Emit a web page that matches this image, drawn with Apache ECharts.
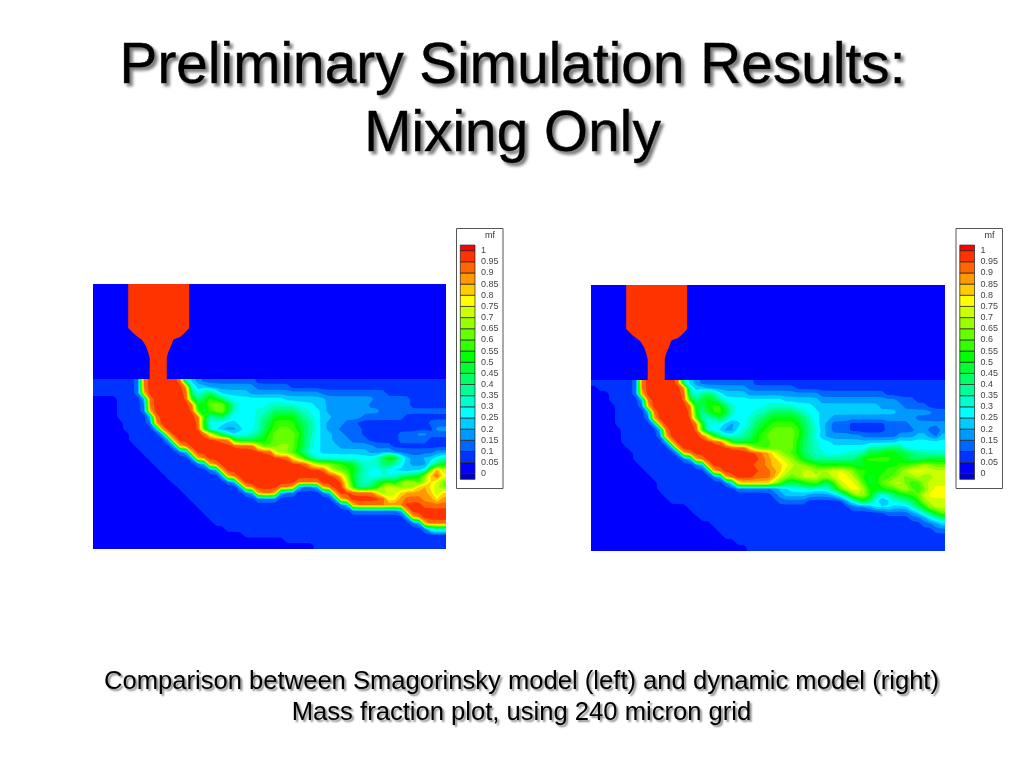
<!DOCTYPE html>
<html>
<head>
<meta charset="utf-8">
<title>Preliminary Simulation Results</title>
<script src="https://cdn.jsdelivr.net/npm/echarts@6/dist/echarts.min.js"></script>
<style>
html, body { margin: 0; padding: 0; background: #fff; }
#chart { width: 1024px; height: 768px; }
</style>
</head>
<body>
<div id="chart"></div>
<script>
// mass fraction bands: one char per 0.05 step, '0' = 0-0.05 ... 'j' = 0.95-1
const bandChars = '0123456789abcdefghij';
const bandColors = ['#0000ff', '#0033ff', '#0066ff', '#0099ff', '#00ccff', '#00ffff', '#00ffcc', '#00ff99', '#00ff66', '#00ff33',
    '#00ff00', '#33ff00', '#66ff00', '#99ff00', '#ccff00', '#ffff00', '#ffcc00', '#ff9900', '#ff6600', '#ff3300'];
const legendEdges = [-0.025, 0, 0.05, 0.1, 0.15, 0.2, 0.25, 0.3, 0.35, 0.4, 0.45, 0.5, 0.55, 0.6, 0.65, 0.7, 0.75, 0.8, 0.85, 0.9, 0.95, 1, 1.025];
const legendBelow = '#0000cc';
const legendAbove = '#ff0000';

// rows, top to bottom. token = band char + run length
// the nozzle is above the interface, it only has wall or fluid
const nozzleRows = [
    '05 4 j10 1 042', '05 4 j10 1 042', '05 4 j10 1 042', '05 4 j10 1 042',
    '05 4 j10 1 042', '05 4 j10 1 042', '05 4 j10 1 042', '05 4 j10 1 042',
    '06 4 j8 3 043', '08 e j4 8 045', '08 5 j4 046', '09 e j2 a 046',
    '09 a j2 7 046', '09 a j2 7 046', '09 a j2 7 046', '09 a j2 7 046'
];

const smagorinskyRows = [
    '18 j7 5 4 3 29 132',
    '18 j8 5 42 38 26 126',
    '18 j8 7 5 7 9 6 45 312 211 110',
    '04 15 j7 a 7 9 b a 8 6 59 47 38 26 16',
    '04 15 j8 9 a c d d a 7 55 65 53 42 37 27 16',
    '04 15 j8 a 8 b c d a 6 53 62 7 84 7 6 52 4 39 211',
    '04 16 j8 b 6 7 9 6 54 6 7 8 a4 8 7 6 5 42 35 27 17',
    '05 15 j8 a 53 42 53 6 8 9 b4 9 8 7 5 4 33 22 112 23',
    '05 16 j7 a 5 4 33 4 52 6 8 a b c c b a 8 7 5 4 32 24 112 32',
    '06 16 j7 f c 7 5 4 52 6 7 9 b c4 b 8 7 5 42 32 23 16 23 32 23',
    '06 17 j10 a 83 9 a b c4 a 8 6 5 42 33 23 15 25 13',
    '07 17 j13 e b b c d d c a 8 6 5 43 36 23 19',
    '08 18 j14 e c c b 9 7 52 48 34 27 32',
    '09 18 j16 f d a 7 510 6 9 c b 7 4 32 42 5 6',
    '010 19 j17 g e d d c b a a 7 63 8 8 6 5 4 33 5 7 a',
    '011 110 j18 f c c b a 8 6 52 6 5 42 3 43 d i e',
    '012 110 j19 g d 9 7 6 54 6 7 8 9 a e g j f',
    '013 111 j18 e a 7 6 7 9 a b 9 d e d b d g e c',
    '014 111 j9 14 j4 f a 62 7 9 e f e c c d g h f e c',
    '015 112 j4 19 j7 g c e e g h4 g d g',
    '016 125 j8 e f h i3 h h f h',
    '017 126 j12 i4',
    '018 134 j7',
    '019 134 j6',
    '020 135 j4',
    '022 134 5 6 6',
    '025 134',
    '032 127',
    '037 122'
];

const dynamicRows = [
    '18 j7 5 4 3 29 132',
    '01 17 j8 5 42 37 28 125',
    '03 15 j8 7 5 7 9 7 5 44 312 211 110',
    '03 16 j7 a 7 9 a 9 7 510 46 313 23 15',
    '04 15 j8 9 8 a b b 8 6 55 65 53 42 49 34 24 13',
    '04 16 j7 a 7 9 b b a 6 53 62 7 84 7 6 52 413 36 22',
    '04 16 j7 b 62 7 9 7 53 6 7 8 9 a4 9 8 6 5 42 314 25',
    '04 17 j7 b 53 4 3 4 5 6 8 9 a b4 a 8 7 5 4 3 23 16 24 36',
    '05 17 j6 a 52 4 32 5 6 7 9 a b c4 b 9 7 6 4 3 23 16 25 32 2 1 3',
    '05 17 j7 g a 7 52 6 7 8 a b c5 b 9 7 5 4 36 26 33 42 3 2 4',
    '05 18 j9 f a 82 9 a b b c4 a 8 7 6 52 411 58',
    '06 18 j12 f c b b c4 a 8 7 6 58 73 83 57',
    '07 18 j13 i h f d c b a 8 7 62 53 63 7 92 a3 92 8 72 63',
    '07 110 j11 i h g f e d b 9 8 77 9 b5 a2 9 83 93',
    '08 111 j8 i2 h g2 f e d2 c b a6 92 a5 b2 c2 e d c2',
    '09 111 j8 i2 h g e d2 e2 d e2 f2 e d b2 a3 b2 c e f3 e3',
    '010 112 j5 i3 h e d c d e3 d2 e f2 e c a 9 a b2 c d c d e c d e2',
    '011 112 3 h6 e c 9 8 9 a b c 9 8 b e f2 e b 9 a c d e2 c a b d e3',
    '011 119 2 3 4 53 6 52 6 8 c e f2 d a3 b2 d e c a c e f2',
    '012 118 2 3 44 34 4 5 8 c e d b 7 5 6 8 9 a b c e f3',
    '013 118 25 16 3 5 8 a 8 5 3 4 62 7 8 a d e3',
    '016 127 23 3 53 43 6 8 a d e2',
    '017 132 24 3 4 6 8 a c',
    '018 135 22 3 5 6 8',
    '020 135 22 3 4',
    '021 136 22',
    '022 137',
    '024 135',
    '026 133'
];

const colCount = 59;
const rowCount = nozzleRows.length + smagorinskyRows.length;
const wallThreshold = 9.5;
const softSide = 0.08;

function expandRows(rows) {
    return rows.map(row => {
        let out = [];
        row.split(' ').forEach(token => {
            const band = bandChars.indexOf(token[0]);
            const run = token.length > 1 ? parseInt(token.slice(1), 10) : 1;
            for (let i = 0; i < run; i++) out.push(band);
        });
        while (out.length < colCount) out.push(out[out.length - 1]);
        return out;
    });
}

// slight softening for drawing only, so the contour lines are not chamfered
function softened(bands) {
    const pick = (c, r) => bands[Math.max(0, Math.min(r, bands.length - 1))][Math.max(0, Math.min(c, colCount - 1))];
    const mid = 1 - 2 * softSide;
    return bands.map((row, r) => row.map((v, c) => {
        let sum = 0;
        [[-1, softSide], [0, mid], [1, softSide]].forEach(a => {
            [[-1, softSide], [0, mid], [1, softSide]].forEach(b => {
                sum += pick(c + a[0], r + b[0]) * a[1] * b[1];
            });
        });
        return sum;
    }));
}

// contour squares between neighbouring cell centres: [x0, y0, x1, y1, v00, v10, v11, v01, isWall]
function squaresFrom(rows, firstRow, isWall) {
    const bands = isWall ? expandRows(rows) : softened(expandRows(rows));
    const at = (c, r) => bands[Math.max(0, Math.min(r, rows.length - 1))][Math.max(0, Math.min(c, colCount - 1))];
    let squares = [];
    for (let r = 0; r <= rows.length; r++) {
        for (let c = 0; c <= colCount; c++) {
            squares.push([
                Math.max(c - 0.5, 0), firstRow + Math.max(r - 0.5, 0),
                Math.min(c + 0.5, colCount), firstRow + Math.min(r + 0.5, rows.length),
                at(c - 1, r - 1), at(c, r - 1), at(c, r), at(c - 1, r), isWall ? 1 : 0
            ]);
        }
    }
    return squares;
}

function clipAbove(corners, t) {
    let out = [];
    corners.forEach((p, i) => {
        const q = corners[(i + 1) % corners.length];
        if (p[2] >= t) out.push(p);
        if ((p[2] >= t) !== (q[2] >= t)) {
            const f = (t - p[2]) / (q[2] - p[2]);
            out.push([p[0] + (q[0] - p[0]) * f, p[1] + (q[1] - p[1]) * f, t]);
        }
    });
    return out;
}

function renderSquare(params, api) {
    // square corners land on whole pixels so neighbours leave no seam
    const a = api.coord([api.value(0), api.value(1)]).map(Math.round);
    const b = api.coord([api.value(2), api.value(3)]).map(Math.round);
    const v = [api.value(4), api.value(5), api.value(6), api.value(7)];
    const isWall = api.value(8) === 1;
    const corners = [[a[0], a[1], v[0]], [b[0], a[1], v[1]], [b[0], b[1], v[2]], [a[0], b[1], v[3]]];
    const toPoly = (pts, color) => ({
        type: 'polygon',
        shape: {points: pts.map(p => [p[0], p[1]])},
        style: {fill: color, stroke: null, lineWidth: 0}
    });
    let children = [];
    if (isWall) {
        children.push(toPoly(corners, bandColors[0]));
        const fluid = clipAbove(corners, wallThreshold);
        if (fluid.length > 2) children.push(toPoly(fluid, bandColors[19]));
    } else {
        const low = Math.round(Math.min.apply(null, v));
        const high = Math.round(Math.max.apply(null, v));
        children.push(toPoly(corners, bandColors[low]));
        for (let band = low + 1; band <= high; band++) {
            const part = clipAbove(corners, band - 0.5);
            if (part.length > 2) children.push(toPoly(part, bandColors[band]));
        }
    }
    return {type: 'group', children: children};
}

const legendColors = [legendBelow].concat(bandColors, [legendAbove]);
const legendData = legendEdges.slice(0, -1).map((low, i) => [low, legendEdges[i + 1]]);

function renderLegendBox(params, api) {
    const a = api.coord([0, api.value(0)]);
    const b = api.coord([1, api.value(1)]);
    return {
        type: 'rect',
        shape: {x: a[0], y: b[1], width: b[0] - a[0], height: a[1] - b[1]},
        style: {fill: legendColors[params.dataIndex], stroke: '#222', lineWidth: 0.7}
    };
}

function legendFrame(x) {
    return {type: 'rect', shape: {x: x, y: 228.5, width: 46.5, height: 260}, style: {fill: '#fff', stroke: '#555', lineWidth: 1}, z: -1};
}

function legendTitle(x) {
    return {type: 'text', x: x, y: 231, style: {text: 'mf', fontFamily: 'Liberation Sans', fontSize: 9, fill: '#333'}};
}

const plotGrids = [
    {left: 93.3, top: 284.3, width: 352.4, height: 265},
    {left: 591, top: 285, width: 354.3, height: 266}
];
const legendGrids = [
    {left: 460.3, top: 239.5, width: 14.7, height: 245.4},
    {left: 959.8, top: 239.5, width: 14.7, height: 245.4}
];

function plotSeries(data, axisIndex) {
    return {
        type: 'custom',
        xAxisIndex: axisIndex,
        yAxisIndex: axisIndex,
        data: data,
        renderItem: renderSquare,
        encode: {x: [0, 2], y: [1, 3]},
        silent: true
    };
}

function legendSeries(axisIndex) {
    return {
        type: 'custom',
        xAxisIndex: axisIndex,
        yAxisIndex: axisIndex,
        data: legendData,
        renderItem: renderLegendBox,
        encode: {y: [0, 1]},
        silent: true,
        clip: false
    };
}

function legendYAxis(gridIndex) {
    return {
        type: 'value',
        gridIndex: gridIndex,
        position: 'right',
        min: -0.05,
        max: 1.05,
        interval: 0.05,
        axisLine: {show: false},
        axisTick: {show: false},
        splitLine: {show: false},
        axisLabel: {
            show: true,
            margin: 6,
            fontSize: 9,
            color: '#444',
            fontFamily: 'Liberation Sans',
            padding: [5, 0, 0, 0],
            formatter: v => (v < -0.01 || v > 1.01) ? '' : String(Math.round(v * 100) / 100)
        }
    };
}

const chart = echarts.init(document.getElementById('chart'), null, {renderer: 'canvas'});

chart.setOption({
    animation: false,
    backgroundColor: '#fff',
    title: [
        {
            text: 'Preliminary Simulation Results:\nMixing Only',
            left: 507.5,
            top: 28.5,
            textAlign: 'center',
            textStyle: {
                fontFamily: 'Liberation Sans',
                fontWeight: 'normal',
                fontSize: 56.8,
                lineHeight: 68,
                color: '#000',
                textBorderColor: '#000',
                textBorderWidth: 0.5,
                textShadowColor: '#777',
                textShadowBlur: 3,
                textShadowOffsetX: 3,
                textShadowOffsetY: 3
            }
        },
        {
            text: 'Comparison between Smagorinsky model (left) and dynamic model (right)\nMass fraction plot, using 240 micron grid',
            left: 516.5,
            top: 661,
            textAlign: 'center',
            textStyle: {
                fontFamily: 'Liberation Sans',
                fontWeight: 'normal',
                fontSize: 25.6,
                lineHeight: 31,
                color: '#000',
                textShadowColor: '#888',
                textShadowBlur: 2,
                textShadowOffsetX: 2,
                textShadowOffsetY: 2
            }
        }
    ],
    grid: plotGrids.concat(legendGrids),
    xAxis: [
        {type: 'value', gridIndex: 0, min: 0, max: colCount, show: false},
        {type: 'value', gridIndex: 1, min: 0, max: colCount, show: false},
        {type: 'value', gridIndex: 2, min: 0, max: 1, show: false},
        {type: 'value', gridIndex: 3, min: 0, max: 1, show: false}
    ],
    yAxis: [
        {type: 'value', gridIndex: 0, min: 0, max: rowCount, inverse: true, show: false},
        {type: 'value', gridIndex: 1, min: 0, max: rowCount, inverse: true, show: false},
        legendYAxis(2),
        legendYAxis(3)
    ],
    graphic: [legendFrame(456.5), legendFrame(956), legendTitle(485), legendTitle(984.5)],
    series: [
        plotSeries(squaresFrom(nozzleRows, 0, true).concat(squaresFrom(smagorinskyRows, nozzleRows.length, false)), 0),
        plotSeries(squaresFrom(nozzleRows, 0, true).concat(squaresFrom(dynamicRows, nozzleRows.length, false)), 1),
        legendSeries(2),
        legendSeries(3)
    ]
});
</script>
</body>
</html>
